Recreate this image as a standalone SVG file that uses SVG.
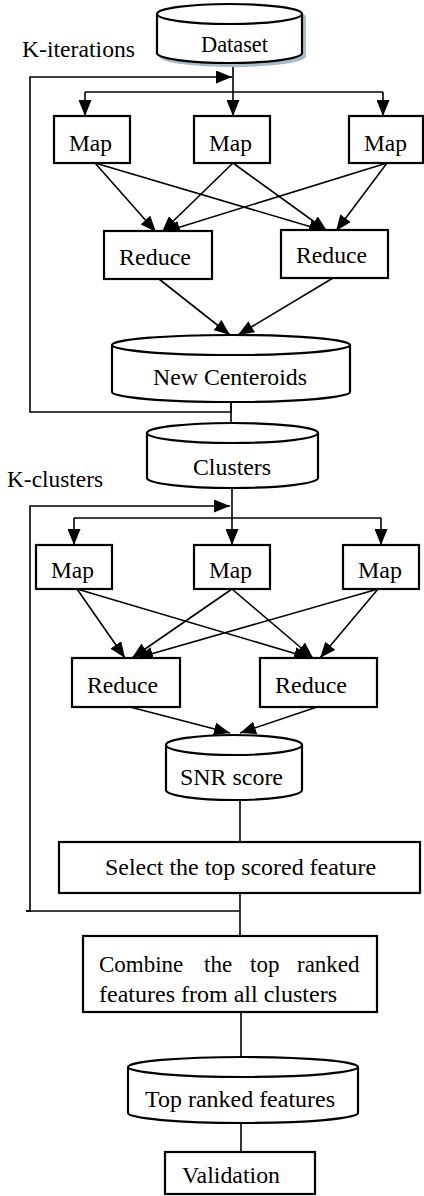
<svg xmlns="http://www.w3.org/2000/svg" width="424" height="1196" viewBox="0 0 424 1196">
<defs>
<marker id="arr" markerUnits="userSpaceOnUse" markerWidth="16" markerHeight="13" refX="16" refY="6.5" orient="auto">
<path d="M0,0 L16,6.5 L0,13 Z" fill="#000"/>
</marker>
<style>
.box{fill:#fff;stroke:#000;stroke-width:2.2}
.cyl{fill:#fff;stroke:#000;stroke-width:2.2}
.ln{fill:none;stroke:#000;stroke-width:1.6}
.ar{fill:none;stroke:#000;stroke-width:1.6;marker-end:url(#arr)}
text{font-family:"Liberation Serif","Times New Roman",serif;font-size:23px;fill:#000}
</style>
</defs>
<rect width="424" height="1196" fill="#fff"/>
<text x="22" y="57" textLength="113" lengthAdjust="spacingAndGlyphs">K-iterations</text>
<text x="7" y="487" textLength="96" lengthAdjust="spacingAndGlyphs">K-clusters</text>
<g id="connectors">
<line class="ar" x1="233" y1="63" x2="233" y2="116"/>
<polyline class="ar" points="231,402 231,412 30,412 30,77 232,77"/>
<line class="ln" x1="231" y1="402" x2="231" y2="424"/>
<line class="ln" x1="85" y1="92" x2="383" y2="92"/>
<line class="ar" x1="85" y1="92" x2="85" y2="116"/>
<line class="ar" x1="383" y1="92" x2="383" y2="116"/>
<line class="ar" x1="95" y1="163" x2="156" y2="232"/>
<line class="ar" x1="95" y1="163" x2="325" y2="231"/>
<line class="ar" x1="233" y1="163" x2="162" y2="232"/>
<line class="ar" x1="233" y1="163" x2="327" y2="231"/>
<line class="ar" x1="387" y1="163" x2="164" y2="232"/>
<line class="ar" x1="387" y1="163" x2="336" y2="231"/>
<line class="ar" x1="159" y1="279" x2="230" y2="335"/>
<line class="ar" x1="333" y1="278" x2="238" y2="335"/>
<line class="ar" x1="232" y1="488" x2="232" y2="545"/>
<polyline class="ar" points="26,911 30,911 30,506 230,506"/>
<line class="ln" x1="26" y1="911" x2="240" y2="911"/>
<line class="ln" x1="74" y1="518" x2="381" y2="518"/>
<line class="ar" x1="74" y1="518" x2="74" y2="545"/>
<line class="ar" x1="381" y1="518" x2="381" y2="545"/>
<line class="ar" x1="77" y1="589" x2="125" y2="658"/>
<line class="ar" x1="77" y1="589" x2="310" y2="658"/>
<line class="ar" x1="232" y1="589" x2="132" y2="658"/>
<line class="ar" x1="232" y1="589" x2="313" y2="658"/>
<line class="ar" x1="378" y1="589" x2="137" y2="658"/>
<line class="ar" x1="378" y1="589" x2="320" y2="658"/>
<line class="ar" x1="130" y1="707" x2="230" y2="733"/>
<line class="ar" x1="317" y1="707" x2="240" y2="733"/>
<line class="ln" x1="240" y1="800" x2="240" y2="842"/>
<line class="ln" x1="240" y1="893" x2="240" y2="936"/>
<line class="ln" x1="241" y1="1012" x2="241" y2="1057"/>
<line class="ln" x1="241" y1="1123" x2="241" y2="1152"/>
</g>
<g id="dataset">
<path d="M160,17 A72.5,10 0 0 1 305,17 L305,56 A72.5,10 0 0 1 160,56 Z" fill="#a9bcc6" stroke="#a9bcc6" stroke-width="2"/>
<path class="cyl" d="M157,14 A72.5,10 0 0 1 302,14 L302,53 A72.5,10 0 0 1 157,53 Z"/>
<path class="cyl" d="M157,14 A72.5,10 0 0 0 302,14" fill="none"/>
<text x="201" y="52" textLength="67" lengthAdjust="spacingAndGlyphs">Dataset</text>
</g>
<g id="map1"><rect class="box" x="54" y="116" width="76" height="47"/><text x="69" y="151" textLength="43" lengthAdjust="spacingAndGlyphs">Map</text></g>
<g id="map2"><rect class="box" x="194" y="116" width="76" height="47"/><text x="209" y="151" textLength="43" lengthAdjust="spacingAndGlyphs">Map</text></g>
<g id="map3"><rect class="box" x="349" y="116" width="74" height="47"/><text x="364" y="151" textLength="43" lengthAdjust="spacingAndGlyphs">Map</text></g>
<g id="reduce1"><rect class="box" x="104" y="231" width="108" height="48"/><text x="119" y="265" textLength="72" lengthAdjust="spacingAndGlyphs">Reduce</text></g>
<g id="reduce2"><rect class="box" x="281" y="230" width="107" height="48"/><text x="296" y="263" textLength="71" lengthAdjust="spacingAndGlyphs">Reduce</text></g>
<g id="newcentroids">
<path class="cyl" d="M112,345 A119,10 0 0 1 350,345 L350,392 A119,10 0 0 1 112,392 Z"/>
<path class="cyl" d="M112,345 A119,10 0 0 0 350,345" fill="none"/>
<text x="153" y="385" textLength="154" lengthAdjust="spacingAndGlyphs">New Centeroids</text>
</g>
<g id="clusters">
<path class="cyl" d="M147,433 A85.5,10 0 0 1 318,433 L318,478 A85.5,10 0 0 1 147,478 Z"/>
<path class="cyl" d="M147,433 A85.5,10 0 0 0 318,433" fill="none"/>
<text x="193" y="475" textLength="78" lengthAdjust="spacingAndGlyphs">Clusters</text>
</g>
<g id="map4"><rect class="box" x="36" y="545" width="76" height="44"/><text x="51" y="578" textLength="43" lengthAdjust="spacingAndGlyphs">Map</text></g>
<g id="map5"><rect class="box" x="194" y="545" width="76" height="44"/><text x="209" y="578" textLength="43" lengthAdjust="spacingAndGlyphs">Map</text></g>
<g id="map6"><rect class="box" x="343" y="545" width="76" height="44"/><text x="358" y="578" textLength="44" lengthAdjust="spacingAndGlyphs">Map</text></g>
<g id="reduce3"><rect class="box" x="72" y="658" width="108" height="49"/><text x="87" y="693" textLength="71" lengthAdjust="spacingAndGlyphs">Reduce</text></g>
<g id="reduce4"><rect class="box" x="260" y="658" width="117" height="49"/><text x="275" y="693" textLength="72" lengthAdjust="spacingAndGlyphs">Reduce</text></g>
<g id="snr">
<path class="cyl" d="M166,745 A68,10 0 0 1 302,745 L302,790 A68,10 0 0 1 166,790 Z"/>
<path class="cyl" d="M166,745 A68,10 0 0 0 302,745" fill="none"/>
<text x="180" y="785" textLength="103" lengthAdjust="spacingAndGlyphs">SNR score</text>
</g>
<g id="select"><rect class="box" x="59" y="842" width="361" height="51"/><text x="105" y="875" textLength="271" lengthAdjust="spacingAndGlyphs">Select the top scored feature</text></g>
<g id="combine"><rect class="box" x="83" y="936" width="294" height="76"/>
<text y="972"><tspan x="99">Combine</tspan><tspan x="204">the</tspan><tspan x="250">top</tspan><tspan x="297">ranked</tspan></text>
<text x="99" y="1002" textLength="238" lengthAdjust="spacingAndGlyphs">features from all clusters</text>
</g>
<g id="topranked">
<path class="cyl" d="M128,1067 A115,10 0 0 1 358,1067 L358,1113 A115,10 0 0 1 128,1113 Z"/>
<path class="cyl" d="M128,1067 A115,10 0 0 0 358,1067" fill="none"/>
<text x="145" y="1107" textLength="190" lengthAdjust="spacingAndGlyphs">Top ranked features</text>
</g>
<g id="validation"><rect class="box" x="165" y="1152" width="150" height="42"/><text x="182" y="1183" textLength="98" lengthAdjust="spacingAndGlyphs">Validation</text></g>
</svg>
